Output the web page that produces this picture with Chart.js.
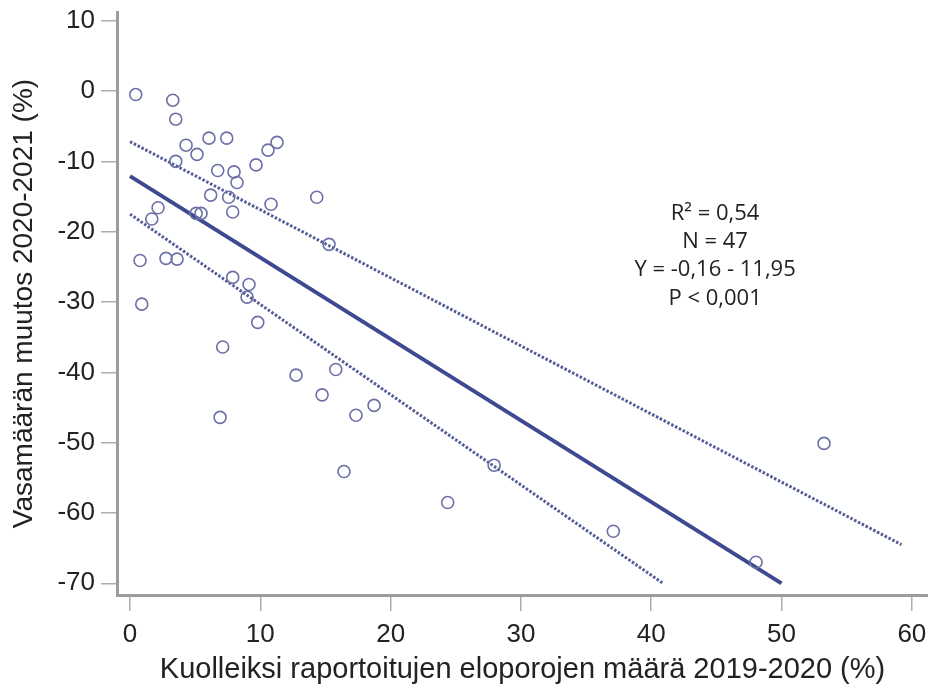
<!DOCTYPE html>
<html>
<head>
<meta charset="utf-8">
<script src="https://cdn.jsdelivr.net/npm/chart.js@4.4.1/dist/chart.umd.min.js"></script>
<style>
  html, body { margin: 0; padding: 0; background: #fff; }
  canvas { display: block; }
</style>
</head>
<body>
<canvas id="chart" width="928" height="687"></canvas>
<script>
// reported dead reindeer 2019-2020 (%) vs change in calf count 2020-2021 (%)
const deadShare = [
  0.44, 3.28, 3.51, 4.30, 5.14, 6.06, 7.42, 3.51, 6.73, 7.98,
  8.21, 9.67, 10.59, 11.28, 6.19, 7.57, 7.88, 10.82, 14.33, 5.07,
  5.45, 2.15, 1.67, 15.27, 0.77, 2.76, 3.61, 0.90, 7.88, 9.13,
  8.98, 9.80, 7.11, 12.74, 15.79, 14.74, 17.34, 18.73, 6.91, 16.42,
  27.94, 24.38, 37.09, 48.04, 53.26
];
const calfChange = [
  -0.5, -1.3, -4.0, -7.7, -9.0, -6.7, -6.7, -10.0, -11.3, -11.5,
  -13.0, -10.5, -8.4, -7.3, -14.8, -15.1, -17.2, -16.1, -15.1, -17.4,
  -17.4, -16.6, -18.2, -21.8, -24.1, -23.8, -23.9, -30.3, -26.5, -27.5,
  -29.3, -32.9, -36.4, -40.4, -39.6, -43.2, -46.1, -44.7, -46.4, -54.1,
  -53.2, -58.5, -62.6, -67.0, -50.1
];

// regression line and its confidence limits (end points)
const fitX = [0, 50];
const fitY = [-12.1, -70];
const upperX = [0, 59.2];
const upperY = [-7.2, -64.5];
const lowerX = [0, 40.9];
const lowerY = [-17.5, -70];

const xTicks = [0, 10, 20, 30, 40, 50, 60];
const yTicks = [10, 0, -10, -20, -30, -40, -50, -60, -70];

const statsLines = ['R\u00B2 = 0,54', 'N = 47', 'Y = -0,16 - 11,95', 'P < 0,001'];

const toPoints = (xs, ys) => xs.map((x, i) => ({ x: x, y: ys[i] }));

const lineColor = '#3d4a8f';
const bandColor = '#535d98';
const axisColor = '#9c9c9c';
const textColor = '#222';

// fit statistics, centred in the right half of the plot
const statsPlugin = {
  id: 'stats',
  afterDatasetsDraw(chart) {
    const { ctx, scales } = chart;
    const cx = scales.x.getPixelForValue(44.9);
    const top = scales.y.getPixelForValue(-17.4);
    ctx.save();
    ctx.font = '22px "Open Sans"';
    ctx.fillStyle = textColor;
    ctx.textAlign = 'center';
    ctx.textBaseline = 'middle';
    statsLines.forEach((t, i) => ctx.fillText(t, cx, top + i * 28.3));
    ctx.restore();
  }
};

// no extra room for half tick labels at the ends of the axes
const noEdgePadding = s => {
  s.paddingLeft = 0;
  s.paddingRight = 0;
  s.paddingTop = 0;
  s.paddingBottom = 0;
};

new Chart(document.getElementById('chart'), {
  type: 'scatter',
  data: {
    datasets: [
      {
        label: 'points',
        data: toPoints(deadShare, calfChange),
        pointStyle: 'circle',
        pointRadius: 6,
        pointBorderWidth: 1.6,
        pointBorderColor: '#6b70a6',
        pointBackgroundColor: 'rgba(255,255,255,0)',
        order: 1
      },
      {
        label: 'fit',
        type: 'line',
        data: toPoints(fitX, fitY),
        borderColor: lineColor,
        borderWidth: 4,
        pointRadius: 0,
        order: 2
      },
      {
        label: 'upper',
        type: 'line',
        data: toPoints(upperX, upperY),
        borderColor: bandColor,
        borderWidth: 3,
        borderDash: [2.5, 1.8],
        pointRadius: 0,
        order: 3
      },
      {
        label: 'lower',
        type: 'line',
        data: toPoints(lowerX, lowerY),
        borderColor: bandColor,
        borderWidth: 3,
        borderDash: [2.5, 1.8],
        pointRadius: 0,
        order: 3
      }
    ]
  },
  options: {
    responsive: false,
    animation: false,
    layout: { autoPadding: false, padding: { top: 12, right: 0, bottom: 0, left: 0 } },
    plugins: {
      legend: { display: false },
      tooltip: { enabled: false }
    },
    scales: {
      x: {
        type: 'linear',
        min: -1,
        max: 61.24,
        afterBuildTicks: s => { s.ticks = xTicks.map(v => ({ value: v })); },
        afterFit: s => { s.height = 92; noEdgePadding(s); },
        border: { display: true, color: axisColor, width: 3 },
        grid: { drawOnChartArea: false, drawTicks: true, tickLength: 16, color: '#adadad', lineWidth: 1.5 },
        ticks: {
          font: { family: 'Liberation Sans', size: 26 },
          color: textColor,
          padding: 8,
          maxRotation: 0
        },
        title: {
          display: true,
          text: 'Kuolleiksi raportoitujen eloporojen määrä 2019-2020 (%)',
          font: { family: 'Liberation Sans', size: 29 },
          color: textColor,
          padding: { top: 0, bottom: 0 }
        }
      },
      y: {
        type: 'linear',
        min: -71.66,
        max: 11.24,
        afterBuildTicks: s => { s.ticks = yTicks.map(v => ({ value: v })); },
        afterFit: s => { s.width = 117; noEdgePadding(s); },
        border: { display: true, color: axisColor, width: 3 },
        grid: { drawOnChartArea: false, drawTicks: true, tickLength: 16, color: '#adadad', lineWidth: 1.5 },
        ticks: {
          font: { family: 'Liberation Sans', size: 26 },
          color: textColor,
          padding: 6
        },
        title: {
          display: true,
          text: 'Vasamäärän muutos 2020-2021 (%)',
          font: { family: 'Liberation Sans', size: 28 },
          color: textColor,
          padding: { top: 7, bottom: 0 }
        }
      }
    }
  },
  plugins: [statsPlugin]
});
</script>
</body>
</html>
